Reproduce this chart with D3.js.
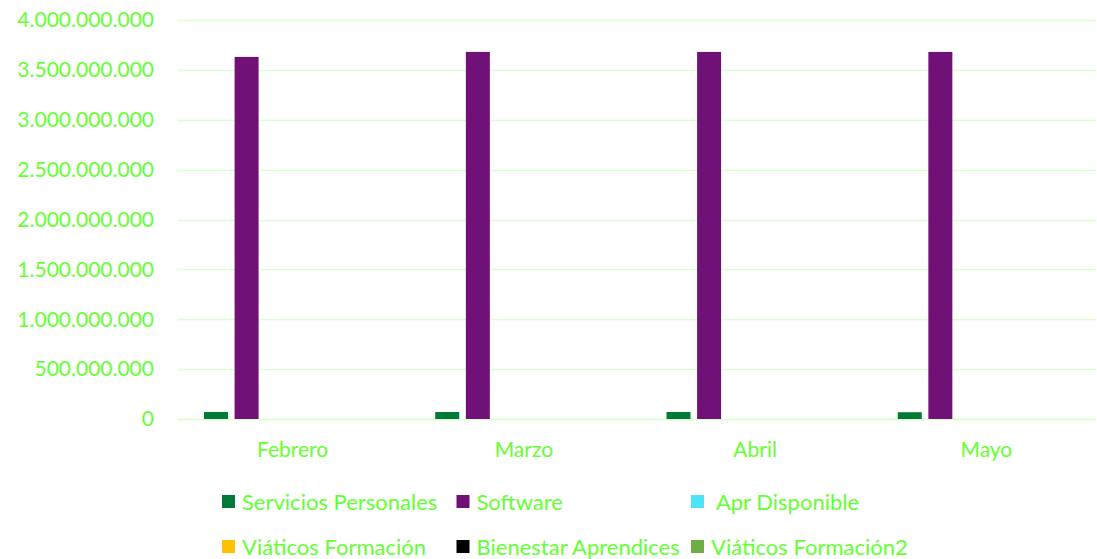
<!DOCTYPE html>
<html>
<head>
<meta charset="utf-8">
<script src="https://cdn.jsdelivr.net/npm/d3@7"></script>
<style>
  body { margin: 0; background: #fff; }
  text { font-family: Lato, "Noto Sans", sans-serif; fill: #66ff33; }
</style>
</head>
<body>
<div id="chart"></div>
<script>
var months = ['Febrero', 'Marzo', 'Abril', 'Mayo'];
var seriesNames = ['Servicios Personales', 'Software', ' Apr Disponible', 'Viáticos Formación', 'Bienestar Aprendices', 'Viáticos Formación2'];
var seriesColors = ['#007a37', '#6f1177', '#4fe3f7', '#ffc000', '#000000', '#70ad47'];
var serviciosPersonales = [70000000, 70000000, 70000000, 68000000];
var software = [3630000000, 3680000000, 3680000000, 3680000000];
var aprDisponible = [0, 0, 0, 0];
var viaticosFormacion = [0, 0, 0, 0];
var bienestarAprendices = [0, 0, 0, 0];
var viaticosFormacion2 = [0, 0, 0, 0];
var yTicks = [0, 500000000, 1000000000, 1500000000, 2000000000, 2500000000, 3000000000, 3500000000, 4000000000];

var width = 1097, height = 559;
var plot = { left: 177, right: 1102, gridRight: 1096, top: 20, bottom: 419 };

var allSeries = [serviciosPersonales, software, aprDisponible, viaticosFormacion, bienestarAprendices, viaticosFormacion2];

var svg = d3.select('#chart').append('svg')
  .attr('width', width)
  .attr('height', height);

var x = d3.scaleBand()
  .domain(months)
  .range([plot.left, plot.right]);

var y = d3.scaleLinear()
  .domain([0, 4000000000])
  .range([plot.bottom, plot.top]);

var fmt = function(v) {
  return d3.format(',')(v).replace(/,/g, '.');
};

// grid
svg.append('g')
  .selectAll('line')
  .data(yTicks)
  .enter()
  .append('line')
  .attr('x1', plot.left)
  .attr('x2', plot.gridRight)
  .attr('y1', function(d) { return Math.round(y(d)) + 0.5; })
  .attr('y2', function(d) { return Math.round(y(d)) + 0.5; })
  .style('stroke', '#dcffd0')
  .style('stroke-width', function(d) { return d === 0 ? 2 : 1.3; });

// y labels
svg.append('g')
  .selectAll('text')
  .data(yTicks)
  .enter()
  .append('text')
  .attr('x', 154)
  .attr('y', function(d) { return y(d); })
  .attr('dy', '0.35em')
  .attr('text-anchor', 'end')
  .style('font-size', '21px')
  .text(fmt);

// bars
var barW = 24, step = 30.6;
var groupOffset = 27;
var groups = svg.append('g')
  .selectAll('g')
  .data(months)
  .enter()
  .append('g')
  .attr('transform', function(d) { return 'translate(' + x(d) + ',0)'; });

groups.selectAll('rect')
  .data(function(d, i) {
    return allSeries.map(function(s, j) { return { s: j, value: s[i] }; });
  })
  .enter()
  .append('rect')
  .attr('x', function(d) { return groupOffset + d.s * step; })
  .attr('y', function(d) { return y(d.value); })
  .attr('width', barW)
  .attr('height', function(d) { return y(0) - y(d.value); })
  .style('fill', function(d) { return seriesColors[d.s]; });

// category labels
svg.append('g')
  .selectAll('text')
  .data(months)
  .enter()
  .append('text')
  .attr('x', function(d) { return x(d) + x.bandwidth() / 2; })
  .attr('y', 450)
  .attr('dy', '0.35em')
  .attr('text-anchor', 'middle')
  .style('font-size', '21px')
  .text(function(d) { return d; });

// legend
var legend = svg.append('g');
var item = legend.selectAll('g')
  .data(seriesNames)
  .enter()
  .append('g')
  .attr('transform', function(d, i) {
    return 'translate(' + (222 + (i % 3) * 234.5) + ',' + (502 + Math.floor(i / 3) * 45) + ')';
  });
item.append('rect')
  .attr('x', 0)
  .attr('y', -7)
  .attr('width', 13)
  .attr('height', 13)
  .style('fill', function(d, i) { return seriesColors[i]; });
item.append('text')
  .attr('x', 20)
  .attr('y', 0)
  .attr('dy', '0.35em')
  .style('font-size', '22px')
  .style('white-space', 'pre')
  .attr('xml:space', 'preserve')
  .text(function(d) { return d; });
</script>
</body>
</html>
